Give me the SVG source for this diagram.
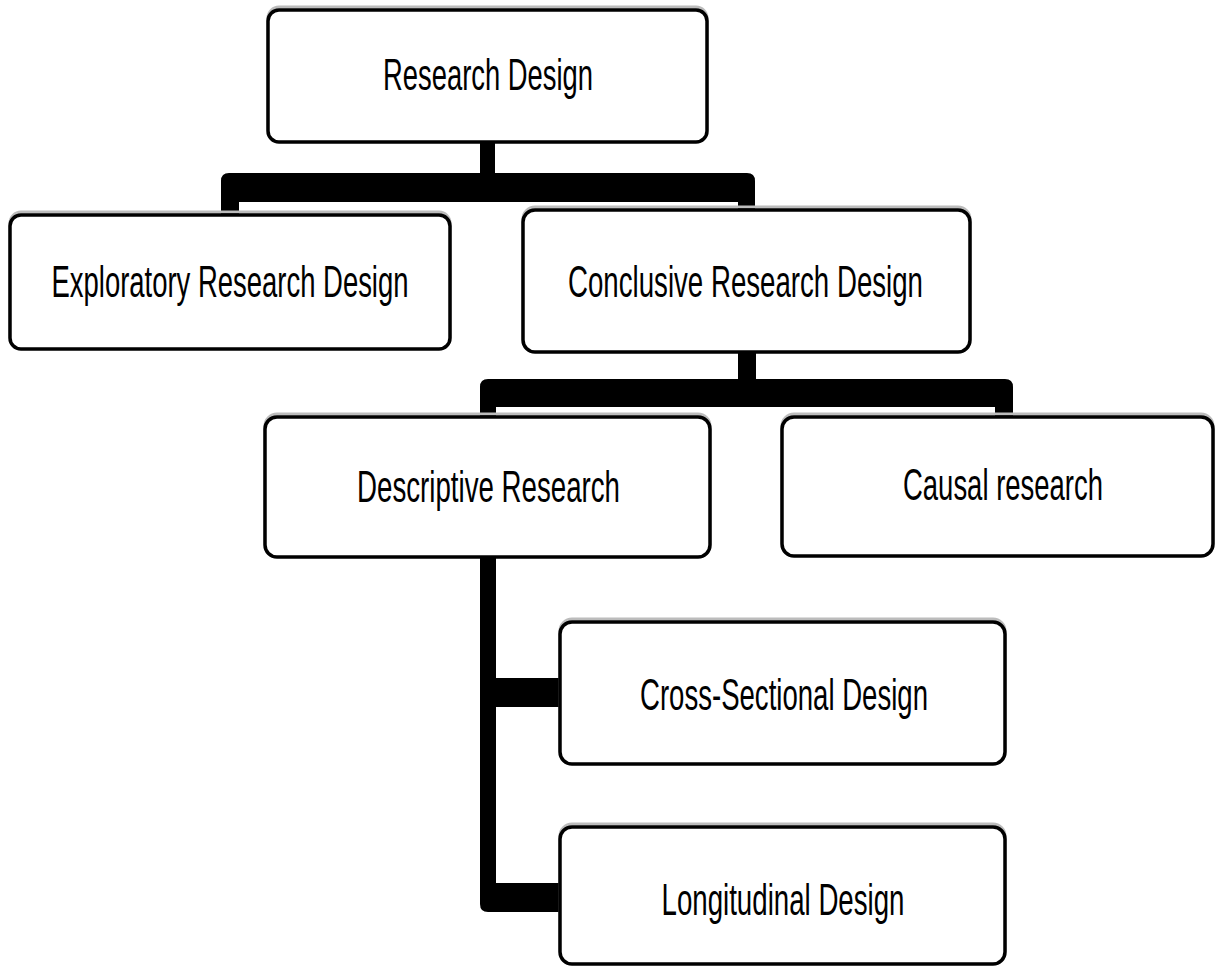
<svg xmlns="http://www.w3.org/2000/svg" width="1216" height="967" viewBox="0 0 1216 967">
  <style>
    .shadow { fill: none; stroke: #bcbcbc; stroke-width: 3; }
    .box { fill: #ffffff; stroke: #000000; stroke-width: 3.5; }
    .label { font-family: "Liberation Sans", Arial, sans-serif; font-size: 44px; fill: #000000; text-anchor: middle; }
    .wire { fill: #000000; stroke: none; }
  </style>
  <rect width="1216" height="967" fill="#ffffff"/>

  <!-- connectors -->
  <g id="connectors">
    <!-- Research Design to its two children -->
    <rect class="wire" x="480" y="140" width="15" height="36"/>
    <path class="wire" d="M221,215 V181 Q221,173 229,173 H747 Q755,173 755,181 V211 H738 V202 H239 V215 Z"/>
    <!-- Conclusive Research Design to its two children -->
    <rect class="wire" x="738" y="350" width="18" height="32"/>
    <path class="wire" d="M480,418 V387 Q480,379 488,379 H1005 Q1013,379 1013,387 V418 H995 V407 H496 V418 Z"/>
    <!-- Descriptive Research to its two children -->
    <path class="wire" d="M480,555 H496 V678 H560 V707 H496 V883 H560 V912 H488 Q480,912 480,904 Z"/>
  </g>

  <g id="node-research-design">
    <rect class="shadow" x="268" y="7" width="439" height="132" rx="11"/>
    <rect class="box" x="268" y="10" width="439" height="132" rx="11"/>
    <text class="label" x="488" y="90" textLength="210" lengthAdjust="spacingAndGlyphs">Research Design</text>
  </g>

  <g id="node-exploratory">
    <rect class="shadow" x="10" y="212" width="440" height="135" rx="11"/>
    <rect class="box" x="10" y="215" width="440" height="134" rx="11"/>
    <text class="label" x="230" y="297" textLength="357" lengthAdjust="spacingAndGlyphs">Exploratory Research Design</text>
  </g>

  <g id="node-conclusive">
    <rect class="shadow" x="523" y="207" width="447" height="142" rx="12"/>
    <rect class="box" x="523" y="210" width="447" height="142" rx="12"/>
    <text class="label" x="745.5" y="297" textLength="355" lengthAdjust="spacingAndGlyphs">Conclusive Research Design</text>
  </g>

  <g id="node-descriptive">
    <rect class="shadow" x="265" y="414" width="445" height="140" rx="12"/>
    <rect class="box" x="265" y="417" width="445" height="140" rx="12"/>
    <text class="label" x="488.5" y="502" textLength="263" lengthAdjust="spacingAndGlyphs">Descriptive Research</text>
  </g>

  <g id="node-causal">
    <rect class="shadow" x="782" y="414" width="431" height="139" rx="12"/>
    <rect class="box" x="782" y="417" width="431" height="139" rx="12"/>
    <text class="label" x="1003" y="500" textLength="200" lengthAdjust="spacingAndGlyphs">Causal research</text>
  </g>

  <g id="node-cross-sectional">
    <rect class="shadow" x="560" y="619" width="445" height="142" rx="12"/>
    <rect class="box" x="560" y="622" width="445" height="142" rx="12"/>
    <text class="label" x="784" y="710" textLength="288" lengthAdjust="spacingAndGlyphs">Cross-Sectional Design</text>
  </g>

  <g id="node-longitudinal">
    <rect class="shadow" x="560" y="824" width="445" height="137" rx="12"/>
    <rect class="box" x="560" y="827" width="445" height="137" rx="12"/>
    <text class="label" x="783" y="915" textLength="243" lengthAdjust="spacingAndGlyphs">Longitudinal Design</text>
  </g>
</svg>
